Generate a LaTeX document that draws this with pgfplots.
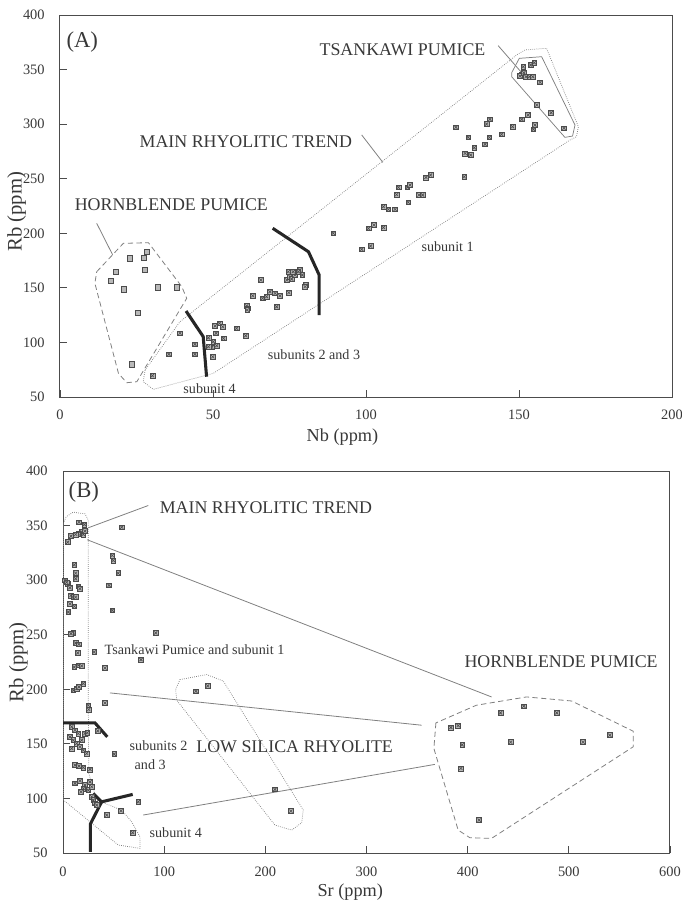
\documentclass[border=0pt]{standalone}
\usepackage{pgfplots}
\pgfplotsset{compat=1.18}
\usepackage{fontspec}
\setmainfont{Liberation Serif}
\definecolor{txt}{gray}{0.22}
\definecolor{axc}{gray}{0.30}
\definecolor{env}{gray}{0.50}
\definecolor{mkd}{gray}{0.30}
\definecolor{mkf}{gray}{0.72}
\pgfdeclareplotmark{sqx}{%
 \pgfpathrectangle{\pgfqpoint{-\pgfplotmarksize}{-\pgfplotmarksize}}{\pgfqpoint{2\pgfplotmarksize}{2\pgfplotmarksize}}%
 \pgfusepathqfillstroke
 \pgfpathmoveto{\pgfqpoint{-0.65\pgfplotmarksize}{-0.65\pgfplotmarksize}}%
 \pgfpathlineto{\pgfqpoint{0.65\pgfplotmarksize}{0.65\pgfplotmarksize}}%
 \pgfpathmoveto{\pgfqpoint{-0.65\pgfplotmarksize}{0.65\pgfplotmarksize}}%
 \pgfpathlineto{\pgfqpoint{0.65\pgfplotmarksize}{-0.65\pgfplotmarksize}}%
 \pgfusepathqstroke
}
\newcommand{\bigf}{\fontsize{13.4}{15}\selectfont}
\newcommand{\smf}{\fontsize{10.6}{12.5}\selectfont}
\pgfplotsset{
  myax/.style={
    scale only axis,
    clip=false,
    axis line style={axc, line width=0.75pt},
    tick pos=left,
    tick align=inside,
    major tick length=5pt,
    tick style={axc, line width=0.6pt},
    /pgf/number format/assume math mode=true,
    ticklabel style={font=\fontsize{10.8}{12}\selectfont, text=txt},
    yticklabel style={xshift=-8pt},
    ymin=50, ymax=400, ytick={50,100,...,400},
  },
  pts/.style={only marks, mark=sqx, mark size=1.8pt, mark options={draw=mkd, fill=mkf, line width=0.45pt}},
  hbp/.style={only marks, mark=square*, mark size=1.9pt, mark options={draw=mkd, fill=gray!55, line width=0.45pt}},
  thick divider/.style={black!85, line width=2.3pt, no marks},
  lead/.style={env, line width=0.6pt, no marks},
}
\begin{document}
\begin{tikzpicture}
\useasboundingbox (0,0) rectangle (511.5pt,-675.75pt);
% ---------------- Panel A ----------------
\begin{axis}[myax,
  at={(45pt,-297.75pt)}, anchor=south west,
  width=459pt, height=286.5pt,
  xmin=0, xmax=200, xtick={0,50,...,200},
  xticklabel style={yshift=-5.8pt},
]
\addplot[env, densely dotted, line width=0.55pt, no marks] coordinates {
 (27.8,74.7) (39.2,119) (149.5,364) (152,368) (159,369.5) (169.4,297.7)
 (168.8,288.5) (166.7,285.5) (50.1,71.7) (30.5,57) (27.2,64) (27.8,74.7)};
\addplot[env, line width=0.55pt, no marks] coordinates {
 (147.6,347.1) (150.1,360.3) (157.4,361.8) (168.3,299.2) (167.5,289.1)
 (165.0,287.9) (147.6,343.5) (147.6,347.1)};
\addplot[env, dashed, dash pattern=on 4pt off 2.5pt, line width=0.6pt, no marks] coordinates {
 (12.0,164.8) (20.7,190.8) (28.9,191.4) (39.8,151.1) (41.4,140.4) (25.1,64.0)
 (21.8,63.1) (19.1,71.7) (11.4,154.2) (12.0,164.8)};
\addplot[lead] coordinates {(12.0,209.1) (17.2,180.3)};
\addplot[lead] coordinates {(98.6,290.1) (105.5,265.0)};
\addplot[lead] coordinates {(143.2,371.9) (150.9,347.1)};
\addplot[thick divider] coordinates {(41.2,128.8) (46.8,105.3) (47.9,68.6)};
\addplot[thick divider] coordinates {(69.5,204.6) (81.2,183.1) (84.7,161.8) (84.7,125.1)};
\addplot[hbp] coordinates {
 (28.5,183.1) (27.5,177.6) (22.9,177.1) (27.8,166.4) (18.3,164.8) (16.6,156.6)
 (20.7,148.7) (32.1,150.5) (38.3,150.5) (25.4,127.3) (23.4,80.0)};
\addplot[pts] coordinates {
 (30.2,69.5) (35.6,89.1) (39.2,108.4) (44.1,98.3) (44.1,89.1) (49.9,86.9)
 (48.5,104.3) (50.1,100.7) (51.2,97.0) (49.6,95.5) (51.0,108.4) (50.7,115.1)
 (52.1,117.5) (53.2,114.4) (53.4,103.8) (48.5,96.1) (57.7,112.9) (60.7,106.2)
 (63.0,142.8) (61.0,133.4) (61.5,131.3) (61.2,129.7) (65.6,157.2) (70.8,132.7)
 (66.2,140.4) (67.5,141.9) (68.6,146.5) (70.3,145.0) (71.9,142.8) (74.8,145.6)
 (74.6,164.8) (74.1,157.2) (75.2,160.2) (75.7,158.1) (76.8,161.8) (78.4,166.4)
 (79.2,161.8) (77.9,164.8) (80.4,152.6) (80.1,151.1) (76.2,164.8)
 (89.3,200) (98.6,185.3) (101.5,188.3) (100.8,204.5) (102.6,207.6) (105.7,205.4)
 (105.7,224.4) (107.3,221.9) (109.5,221.9) (110.0,235.4) (113.8,228.4) (110.6,242.1)
 (113.5,242.1) (114.4,244.2) (117.3,235.1) (118.5,235.1) (119.6,251.2) (121.1,253.4)
 (132.1,251.8) (129.4,297.1) (133.4,287.9) (132.4,273.2) (134.2,271.7) (135.4,278.4)
 (138.9,281.5) (140.3,287.9) (139.4,300.1) (140.5,304.4) (144.3,290.7) (147.9,297.7)
 (150.9,345.7) (150.3,344.1) (151.6,347.1) (152.3,343.5) (153.4,343.5) (154.5,343.5)
 (151.4,352.6) (153.8,354.2) (155.0,356.3) (156.9,338.3) (155.8,317.5) (160.5,310.5)
 (164.7,296.2) (153.0,308.4) (150.9,304.4) (155.2,299.2) (154.7,295.3)};
\node[anchor=west, text=txt, font=\fontsize{17}{19}\selectfont] at (axis cs:0.6,375.5) {(A)};
\node[anchor=west, text=txt, font=\bigf] at (axis cs:83.3,367.9) {TSANKAWI PUMICE};
\node[anchor=west, text=txt, font=\bigf] at (axis cs:24.5,283.9) {MAIN RHYOLITIC TREND};
\node[anchor=west, text=txt, font=\bigf] at (axis cs:3.3,226) {HORNBLENDE PUMICE};
\node[anchor=west, text=txt, font=\smf] at (axis cs:116.6,187.7) {subunit 1};
\node[anchor=west, text=txt, font=\smf] at (axis cs:66.4,88.5) {subunits 2 and 3};
\node[anchor=west, text=txt, font=\smf] at (axis cs:38.8,57.5) {subunit 4};
\node[text=txt, font=\fontsize{13.7}{15}\selectfont] at (axis cs:92.3,13.6) {Nb (ppm)};
\node[text=txt, rotate=90, font=\fontsize{15.5}{17}\selectfont] at (axis cs:-14.2,219.8) {Rb (ppm)};
\end{axis}
% ---------------- Panel B ----------------
\begin{axis}[myax,
  at={(47.25pt,-639.75pt)}, anchor=south west,
  width=455.25pt, height=286.5pt,
  xmin=0, xmax=600, xtick={0,100,...,600},
  xticklabel style={yshift=-7.2pt},
]
\addplot[env, densely dotted, line width=0.55pt, no marks] coordinates {
 (0.5,352) (3,358) (10,362.3) (21.7,360.8) (25,355) (25,185) (25.5,123)
 (33.3,98.5) (58,89.3) (67.9,78.6) (76.1,64.9) (76.1,54.3) (54.6,57.3)
 (0.5,98.5) (0.5,352)};
\addplot[env, densely dotted, line width=0.55pt, no marks] coordinates {
 (115.6,208.9) (142.0,213.5) (158.4,207.6) (237.5,89.3) (235.9,77.7) (226.0,71.0)
 (209.5,75.6) (112.4,190.0) (111.4,199.8) (115.6,208.9)};
\addplot[env, dashed, dash pattern=on 4pt off 2.5pt, line width=0.6pt, no marks] coordinates {
 (368.6,169.2) (366.6,145.8) (390.6,71.0) (402.2,64.0) (423.6,63.4) (563.6,147.3)
 (563.6,161.6) (502.7,189.3) (458.2,193.0) (408.6,185.4) (368.6,169.2)};
\addplot[lead] coordinates {(84.3,368.4) (25.0,348)};
\addplot[lead] coordinates {(24.0,337) (423.6,193)};
\addplot[lead] coordinates {(46.4,196.7) (354.4,167.1)};
\addplot[lead] coordinates {(79.3,84.8) (367.6,131.2)};
\addplot[thick divider] coordinates {(0,169.2) (31.6,169.2) (43.8,156.4)};
\addplot[thick divider] coordinates {(27,51) (27,76.5) (38.2,96.9) (29.9,104.6)};
\addplot[thick divider] coordinates {(38.2,96.9) (68.9,103.7)};
\addplot[pts] coordinates {
 (15.8,353.1) (21.1,351) (18.5,344) (20.1,341.9) (15.1,342.5) (12.5,341.9)
 (21.7,344.9) (7.9,340.3) (4.6,334.8) (58.0,348.5) (48.7,322.6) (49.7,318.1)
 (54.6,306.4) (45.5,295.2) (48.7,272.3) (11.2,314.1) (12.5,306.4) (12.5,301.3)
 (2.0,299.8) (4.6,296.7) (6.9,293.1) (3.6,298.1) (15.1,294.3) (16.8,292.2)
 (7.9,286) (10.2,284.5) (12.5,284.5) (6.9,278.4) (11.2,276) (5.3,270.8)
 (10.2,251.6) (7.9,251) (12.5,242.4) (15.8,241.2) (14.5,233.3) (30.9,234.2)
 (41.5,219.5) (11.2,220.4) (15.1,222) (18.5,221.4) (77.1,227.2) (91.6,251.6)
 (10.2,199.1) (13.5,200.7) (15.8,202.2) (20.1,205.3) (25.0,185.4) (25.5,181.5)
 (41.5,187.5) (34.3,161.9) (50.7,140.6) (8.6,165.6) (11.9,162.5) (15.1,159.5)
 (6.9,156.4) (10.2,153.4) (13.5,150.4) (16.8,147.3) (20.1,144.2) (23.4,141.2)
 (21.7,159.5) (18.5,153.4) (8.6,145.8) (24.0,160.1) (11.9,130.5) (15.8,129.6)
 (20.1,128.4) (26.7,126.6) (11.9,113.8) (16.8,116.2) (21.7,112.2) (25.0,107.6)
 (26.7,115.2) (20.1,109.2) (28.4,110.7) (17.8,106.1) (28.4,101.5) (29.9,98.5)
 (31.6,95.5) (33.3,93.9) (43.2,84.8) (57.3,88.7) (74.4,96.9) (68.9,68.6)};
\addplot[pts] coordinates {(131.4,198.2) (143.0,203.1) (209.5,108.3) (225.3,88.4)};
\addplot[pts] coordinates {
 (383.4,165.0) (390.6,166.8) (394.6,149.1) (393.3,127.5) (411.4,80.2) (432.5,178.4)
 (455.5,184.5) (442.4,151.6) (488.1,178.4) (514.1,151.6) (540.5,158.0)};
\node[anchor=west, text=txt, font=\fontsize{17}{19}\selectfont] at (axis cs:1,380.5) {(B)};
\node[anchor=west, text=txt, font=\bigf] at (axis cs:91,366.8) {MAIN RHYOLITIC TREND};
\node[anchor=west, text=txt, font=\smf] at (axis cs:36.6,236.6) {Tsankawi Pumice and subunit 1};
\node[anchor=west, text=txt, font=\smf] at (axis cs:61.3,147.9) {subunits 2};
\node[anchor=west, text=txt, font=\smf] at (axis cs:66.2,130.5) {and 3};
\node[anchor=west, text=txt, font=\bigf] at (axis cs:127.2,147.3) {LOW SILICA RHYOLITE};
\node[anchor=west, text=txt, font=\bigf] at (axis cs:392.3,225) {HORNBLENDE PUMICE};
\node[anchor=west, text=txt, font=\smf] at (axis cs:81,68.6) {subunit 4};
\node[text=txt, font=\fontsize{13.7}{15}\selectfont] at (axis cs:284,14.6) {Sr (ppm)};
\node[text=txt, rotate=90, font=\fontsize{15.5}{17}\selectfont] at (axis cs:-44.2,224.8) {Rb (ppm)};
\end{axis}
\end{tikzpicture}
\end{document}
